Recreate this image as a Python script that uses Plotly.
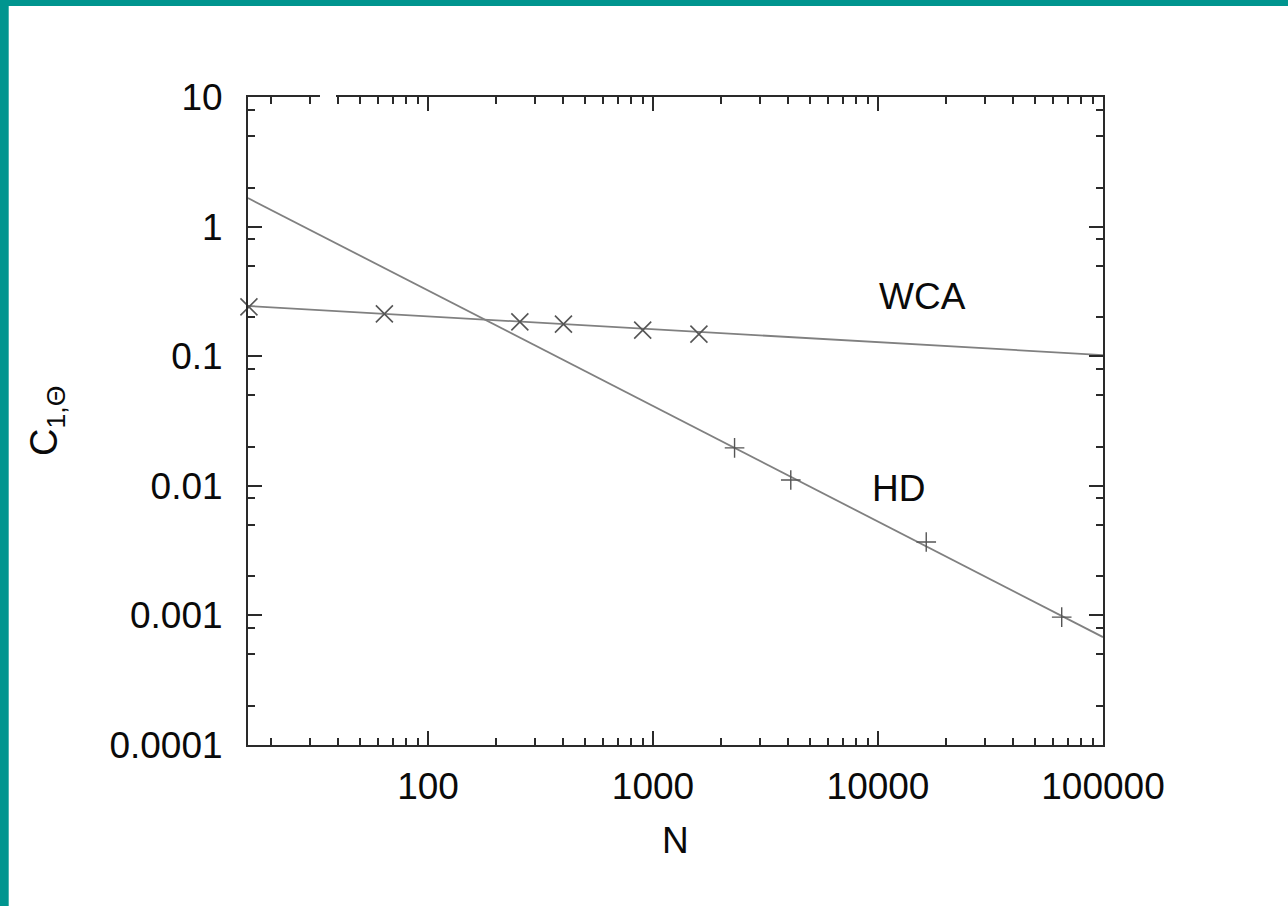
import plotly.graph_objects as go

# ---------------- data ----------------
wca_N = [16, 64, 256, 400, 900, 1600]
wca_C = [0.240, 0.212, 0.184, 0.177, 0.159, 0.148]

hd_N = [2304, 4096, 16384, 65536]
hd_C = [0.0196, 0.0111, 0.00368, 0.00097]

# fitted power-law lines, evaluated at the ends of the N range
fit_N = [15.85, 100000]
wca_fit_C = [0.244, 0.102]
hd_fit_C = [1.66, 0.00068]

x_tickvals = [100, 1000, 10000, 100000]
x_ticktext = ["100", "1000", "10000", "100000"]
y_tickvals = [10, 1, 0.1, 0.01, 0.001, 0.0001]
y_ticktext = ["10", "1", "0.1", "0.01", "0.001", "0.0001"]

x_minor = [d * 10 ** k for k in range(1, 5) for d in range(2, 10)]
y_minor = [d * 10.0 ** k for k in range(-4, 1) for d in (2, 5, 8)]

FONT = "Liberation Sans, Arial, Helvetica, sans-serif"
LINE_COL = "#808080"
MARK_COL = "#555555"
AX_COL = "#2a2a2a"
TXT = "#0a0a0a"
TEAL = "#00958f"

fig = go.Figure()

fig.add_trace(go.Scatter(x=fit_N, y=wca_fit_C, mode="lines",
                         line=dict(color=LINE_COL, width=1.8), showlegend=False))
fig.add_trace(go.Scatter(x=fit_N, y=hd_fit_C, mode="lines",
                         line=dict(color=LINE_COL, width=1.8), showlegend=False))
fig.add_trace(go.Scatter(x=wca_N, y=wca_C, mode="markers",
                         marker=dict(symbol="x-thin", size=17,
                                     line=dict(color=MARK_COL, width=1.6)),
                         showlegend=False, cliponaxis=False))
fig.add_trace(go.Scatter(x=hd_N, y=hd_C, mode="markers",
                         marker=dict(symbol="cross-thin", size=14,
                                     line=dict(color=MARK_COL, width=1.4)),
                         showlegend=False))

W, H = 1288, 906
L, R, T, B = 248, 1288 - 1103, 97, 906 - 745
pw, ph = W - L - R, H - T - B

def px_x(p):
    return (p - L) / pw

def px_y(p):
    return (H - B - p) / ph

axis_common = dict(
    type="log", showline=True, linecolor=AX_COL, linewidth=2, mirror="allticks",
    ticks="inside", ticklen=14, tickwidth=1.5, tickcolor=AX_COL,
    showgrid=False, zeroline=False,
    tickfont=dict(family=FONT, size=37, color=TXT),
)

fig.update_xaxes(**axis_common, range=[1.2, 5], tickvals=x_tickvals, ticktext=x_ticktext,
                 ticklabelstandoff=8,
                 minor=dict(tickvals=x_minor, ticks="inside", ticklen=7, tickwidth=1.5,
                            tickcolor=AX_COL, showgrid=False))
fig.update_yaxes(**axis_common, range=[-4, 1], tickvals=y_tickvals, ticktext=y_ticktext,
                 ticklabelstandoff=16,
                 minor=dict(tickvals=y_minor, ticks="inside", ticklen=7, tickwidth=1.5,
                            tickcolor=AX_COL, showgrid=False))

annotations = [
    dict(text="WCA", x=4.196, y=-0.543, xref="x", yref="y", showarrow=False,
         xanchor="center", yanchor="middle",
         font=dict(family=FONT, size=37, color=TXT)),
    dict(text="HD", x=4.089, y=-2.017, xref="x", yref="y", showarrow=False,
         xanchor="center", yanchor="middle",
         font=dict(family=FONT, size=37, color=TXT)),
    dict(text="N", x=px_x(675), y=px_y(840), xref="paper", yref="paper", showarrow=False,
         xanchor="center", yanchor="middle",
         font=dict(family=FONT, size=37, color=TXT)),
    dict(text="C<sub>1,Θ</sub>", x=px_x(47), y=px_y(421), xref="paper", yref="paper",
         showarrow=False, textangle=-90, xanchor="center", yanchor="middle",
         font=dict(family=FONT, size=38, color=TXT)),
]

shapes = [
    # teal frame (left and top edges)
    dict(type="rect", xref="paper", yref="paper", x0=px_x(0), x1=px_x(8.7),
         y0=px_y(906), y1=px_y(0), fillcolor=TEAL, line=dict(width=0), layer="above"),
    dict(type="rect", xref="paper", yref="paper", x0=px_x(0), x1=px_x(1288),
         y0=px_y(6), y1=px_y(0), fillcolor=TEAL, line=dict(width=0), layer="above"),
    # small gap in the top border
    dict(type="rect", xref="paper", yref="paper", x0=px_x(320), x1=px_x(336),
         y0=px_y(101), y1=px_y(92), fillcolor="white", line=dict(width=0), layer="above"),
]

fig.update_layout(
    width=W, height=H,
    margin=dict(l=L, r=R, t=T, b=B, pad=0),
    paper_bgcolor="white", plot_bgcolor="white",
    annotations=annotations, shapes=shapes,
    showlegend=False,
)

fig.write_html("out.html")
